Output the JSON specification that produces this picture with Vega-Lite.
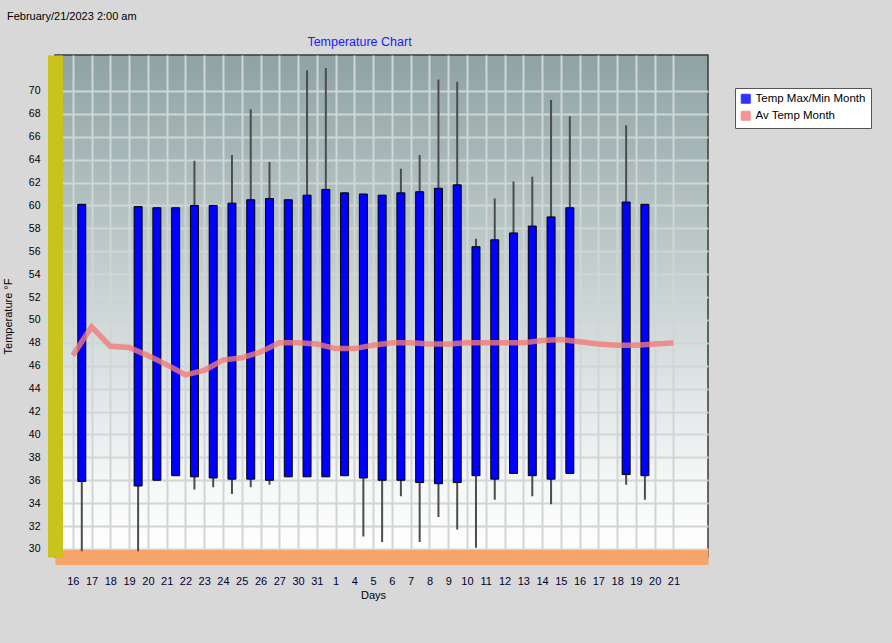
{
  "$schema": "https://vega.github.io/schema/vega-lite/v6.json",
  "width": 653,
  "height": 502,
  "autosize": "none",
  "padding": {"left": 55, "top": 55, "right": 184, "bottom": 86},
  "background": "#d8d8d8",
  "config": {
    "font": "Liberation Sans",
    "axis": {"labelOverlap": false},
    "view": {
      "fill": {"gradient": "linear", "x1": 0, "y1": 0, "x2": 0, "y2": 1,
        "stops": [
          {"offset": 0, "color": "#8fa3a4"},
          {"offset": 0.45, "color": "#c6d0d0"},
          {"offset": 0.85, "color": "#f6f7f7"},
          {"offset": 1, "color": "#ffffff"}
        ]},
      "stroke": "#3a3a3a",
      "strokeWidth": 1.5
    }
  },
  "title": {
    "text": "February/21/2023 2:00 am",
    "anchor": "start",
    "frame": "group",
    "dx": -48,
    "offset": 13,
    "fontSize": 11,
    "fontWeight": "normal",
    "color": "#000000"
  },
  "data": {
    "values": [
      {"i": 0, "day": "16", "max": 60.1, "min": 35.9, "hi": 60.1, "lo": 29.8, "avg": 46.9},
      {"i": 1, "day": "17", "max": null, "min": null, "hi": null, "lo": null, "avg": 49.4},
      {"i": 2, "day": "18", "max": null, "min": null, "hi": null, "lo": null, "avg": 47.7},
      {"i": 3, "day": "19", "max": 59.9, "min": 35.5, "hi": 59.9, "lo": 29.8, "avg": 47.6},
      {"i": 4, "day": "20", "max": 59.8, "min": 36.0, "hi": 59.8, "lo": 36.0, "avg": 46.9},
      {"i": 5, "day": "21", "max": 59.8, "min": 36.4, "hi": 59.8, "lo": 36.4, "avg": 46.1},
      {"i": 6, "day": "22", "max": 60.0, "min": 36.3, "hi": 63.9, "lo": 35.2, "avg": 45.2},
      {"i": 7, "day": "23", "max": 60.0, "min": 36.2, "hi": 60.0, "lo": 35.4, "avg": 45.6},
      {"i": 8, "day": "24", "max": 60.2, "min": 36.1, "hi": 64.4, "lo": 34.8, "avg": 46.5},
      {"i": 9, "day": "25", "max": 60.5, "min": 36.1, "hi": 68.4, "lo": 35.4, "avg": 46.7},
      {"i": 10, "day": "26", "max": 60.6, "min": 36.0, "hi": 63.8, "lo": 35.6, "avg": 47.2},
      {"i": 11, "day": "27", "max": 60.5, "min": 36.3, "hi": 60.5, "lo": 36.3, "avg": 48.0},
      {"i": 12, "day": "30", "max": 60.9, "min": 36.3, "hi": 71.8, "lo": 36.3, "avg": 48.0},
      {"i": 13, "day": "31", "max": 61.4, "min": 36.3, "hi": 72.0, "lo": 36.3, "avg": 47.9},
      {"i": 14, "day": "1", "max": 61.1, "min": 36.4, "hi": 61.1, "lo": 36.4, "avg": 47.5},
      {"i": 15, "day": "4", "max": 61.0, "min": 36.2, "hi": 61.0, "lo": 31.1, "avg": 47.5},
      {"i": 16, "day": "5", "max": 60.9, "min": 36.0, "hi": 60.9, "lo": 30.6, "avg": 47.8},
      {"i": 17, "day": "6", "max": 61.1, "min": 36.0, "hi": 63.2, "lo": 34.6, "avg": 48.0},
      {"i": 18, "day": "7", "max": 61.2, "min": 35.8, "hi": 64.4, "lo": 30.6, "avg": 48.0},
      {"i": 19, "day": "8", "max": 61.5, "min": 35.7, "hi": 71.0, "lo": 32.8, "avg": 47.9},
      {"i": 20, "day": "9", "max": 61.8, "min": 35.8, "hi": 70.8, "lo": 31.7, "avg": 47.9},
      {"i": 21, "day": "10", "max": 56.4, "min": 36.4, "hi": 57.1, "lo": 30.1, "avg": 48.0},
      {"i": 22, "day": "11", "max": 57.0, "min": 36.1, "hi": 60.6, "lo": 34.3, "avg": 48.0},
      {"i": 23, "day": "12", "max": 57.6, "min": 36.6, "hi": 62.1, "lo": 36.6, "avg": 48.0},
      {"i": 24, "day": "13", "max": 58.2, "min": 36.4, "hi": 62.5, "lo": 34.6, "avg": 48.0},
      {"i": 25, "day": "14", "max": 59.0, "min": 36.1, "hi": 69.2, "lo": 33.9, "avg": 48.2},
      {"i": 26, "day": "15", "max": 59.8, "min": 36.6, "hi": 67.8, "lo": 36.6, "avg": 48.3},
      {"i": 27, "day": "16", "max": null, "min": null, "hi": null, "lo": null, "avg": 48.1},
      {"i": 28, "day": "17", "max": null, "min": null, "hi": null, "lo": null, "avg": 47.9},
      {"i": 29, "day": "18", "max": 60.3, "min": 36.5, "hi": 67.0, "lo": 35.6, "avg": 47.8},
      {"i": 30, "day": "19", "max": 60.1, "min": 36.4, "hi": 60.1, "lo": 34.3, "avg": 47.8},
      {"i": 31, "day": "20", "max": null, "min": null, "hi": null, "lo": null, "avg": 47.9},
      {"i": 32, "day": "21", "max": null, "min": null, "hi": null, "lo": null, "avg": 48.0}
    ]
  },
  "resolve": {"axis": {"x": "independent"}},
  "layer": [
    {
      "mark": {"type": "rule", "color": "#4d4d4d", "strokeWidth": 2, "xOffset": 9},
      "encoding": {
        "x": {
          "field": "i",
          "type": "quantitative",
          "scale": {"domain": [-0.682, 33.574], "nice": false, "zero": false},
          "axis": {
            "orient": "bottom",
            "values": [0,1,2,3,4,5,6,7,8,9,10,11,12,13,14,15,16,17,18,19,20,21,22,23,24,25,26,27,28,29,30,31,32],
            "labelExpr": "['16','17','18','19','20','21','22','23','24','25','26','27','30','31','1','4','5','6','7','8','9','10','11','12','13','14','15','16','17','18','19','20','21'][datum.value]",
            "title": "Days",
            "titleX": 318,
            "titleY": 38,
            "titleBaseline": "middle",
            "titleFontSize": 11,
            "titleFontWeight": "normal",
            "titleColor": "#000000",
            "labelFontSize": 11,
            "labelColor": "#000033",
            "labelPadding": 18,
            "labelFlush": false,
            "labelOverlap": false,
            "ticks": false,
            "domainColor": "#f7a46a",
            "domainWidth": 15,
            "grid": true,
            "gridColor": "#d0d6d6",
            "gridWidth": 2
          }
        },
        "y": {
          "field": "lo",
          "type": "quantitative",
          "scale": {"domain": [29.3, 73.14], "nice": false, "zero": false},
          "axis": {
            "values": [30,32,34,36,38,40,42,44,46,48,50,52,54,56,58,60,62,64,66,68,70],
            "tickCount": 22,
            "title": "Temperature °F",
            "titleX": -47,
            "titleY": 261,
            "titleBaseline": "middle",
            "titleFontSize": 11,
            "titleFontWeight": "normal",
            "titleColor": "#000000",
            "labelFontSize": 10.5,
            "labelColor": "#000000",
            "labelPadding": 15,
            "labelOverlap": false,
            "labelBound": false,
            "ticks": false,
            "domainColor": "#c9c41d",
            "domainWidth": 15,
            "grid": true,
            "gridColor": "#d0d6d6",
            "gridWidth": 2
          }
        },
        "y2": {"field": "hi"}
      }
    },
    {
      "mark": {"type": "bar", "width": 8, "xOffset": 9, "stroke": "#000000", "strokeWidth": 1, "opacity": 1},
      "encoding": {
        "x": {
          "field": "i",
          "type": "quantitative",
          "axis": {
            "orient": "top",
            "labels": false,
            "ticks": false,
            "domain": false,
            "grid": false,
            "title": "Temperature Chart",
            "titleX": 304,
            "titleY": -14,
            "titleBaseline": "middle",
            "titleFontSize": 12.5,
            "titleFontWeight": "normal",
            "titleColor": "#1a1aff"
          }
        },
        "y": {"field": "max", "type": "quantitative"},
        "y2": {"field": "min"},
        "color": {
          "datum": "Temp Max/Min Month",
          "scale": {"domain": ["Temp Max/Min Month", "Av Temp Month"], "range": ["#0000ff", "#f07a7a"]},
          "legend": {
            "title": null,
            "orient": "none",
            "legendX": 680,
            "legendY": 33,
            "fillColor": "#ffffff",
            "strokeColor": "#555555",
            "padding": 5,
            "labelFontSize": 11.5,
            "labelColor": "#000000",
            "symbolType": "square",
            "symbolSize": 80,
            "symbolStrokeColor": "#333333",
            "symbolStrokeWidth": 1,
            "symbolOpacity": 1,
            "rowPadding": 3
          }
        }
      }
    },
    {
      "mark": {"type": "line", "strokeWidth": 5.5, "opacity": 0.8},
      "encoding": {
        "x": {"field": "i", "type": "quantitative", "axis": null},
        "y": {"field": "avg", "type": "quantitative"},
        "color": {"datum": "Av Temp Month"}
      }
    }
  ]
}
